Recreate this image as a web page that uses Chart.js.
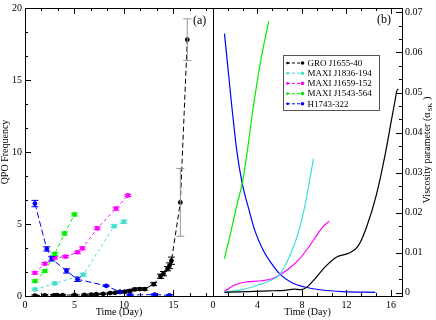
<!DOCTYPE html>
<html>
<head>
<meta charset="utf-8">
<script src="https://cdn.jsdelivr.net/npm/chart.js@4/dist/chart.umd.min.js"></script>
<style>
html, body { margin: 0; padding: 0; background: #fff; }
#wrap { position: relative; width: 436px; height: 320px; }
#wrap canvas { position: absolute; left: 0; top: 0; }
</style>
</head>
<body>
<div id="wrap">
  <canvas id="qpoChart" width="436" height="320"></canvas>
  <canvas id="viscChart" width="436" height="320"></canvas>
</div>
<script>
// sources, in legend order
const sourceNames = ['GRO J1655-40', 'MAXI J1836-194', 'MAXI J1659-152', 'MAXI J1543-564', 'H1743-322'];
const sourceColors = ['#000000', '#40e0d0', '#ff00ff', '#00ee00', '#0000ff'];

// panel (a): QPO frequency (Hz) vs time (day)
const groDays = [1.0, 2.0, 2.9, 3.2, 3.8, 5.0, 6.0, 6.7, 7.2, 7.9, 8.6, 9.1, 9.6, 10.1, 10.6, 11.1, 11.6, 12.1, 13.0, 13.7, 14.0, 14.4, 14.6, 14.8, 15.7, 16.4];
const groQpo = [0.03, 0.05, 0.05, 0.06, 0.06, 0.07, 0.08, 0.1, 0.12, 0.15, 0.2, 0.22, 0.28, 0.3, 0.36, 0.46, 0.48, 0.48, 0.82, 1.37, 1.55, 1.9, 2.1, 2.45, 6.5, 17.8];
const groErr = [0.05, 0.05, 0.05, 0.05, 0.05, 0.05, 0.05, 0.05, 0.05, 0.05, 0.05, 0.05, 0.05, 0.08, 0.08, 0.08, 0.08, 0.08, 0.1, 0.15, 0.15, 0.15, 0.2, 0.25, 2.35, 1.45];

const j1836Days = [1.0, 3.0, 5.9, 9.0, 10.0];
const j1836Qpo = [0.46, 0.87, 1.48, 4.85, 5.16];
const j1836Err = [0.08, 0.08, 0.1, 0.1, 0.1];

const j1659Days = [1.0, 2.0, 3.0, 4.1, 5.3, 5.8, 7.3, 9.2, 10.4];
const j1659Qpo = [1.6, 2.24, 2.65, 2.74, 3.03, 3.31, 4.7, 6.07, 6.98];
const j1659Err = [0.08, 0.08, 0.08, 0.08, 0.08, 0.1, 0.1, 0.1, 0.08];

const j1543Days = [1.0, 2.0, 3.0, 4.0, 5.0];
const j1543Qpo = [1.03, 1.73, 2.92, 4.34, 5.66];
const j1543Err = [0.08, 0.08, 0.1, 0.1, 0.1];

const h1743Days = [1.0, 2.2, 2.7, 4.2, 5.3, 8.2, 9.6, 10.6, 13.1, 14.6];
const h1743Qpo = [6.42, 3.27, 2.58, 1.74, 1.16, 0.71, 0.28, 0.07, 0.1, 0.04];
const h1743Err = [0.22, 0.15, 0.15, 0.15, 0.15, 0.05, 0.08, 0.05, 0.05, 0.05];

// panel (b): viscosity parameter vs time (day)
const groAlphaDays = [1.03, 3.0, 5.0, 6.5, 6.9, 7.3, 7.9, 8.4, 9.3, 10.06, 11.1, 12.3, 13.06, 13.8, 14.7, 15.47, 16.07, 16.37, 16.52, 16.67];
const groAlpha = [0.0001, 0.0003, 0.0005, 0.0006, 0.0008, 0.0009, 0.0008, 0.0013, 0.0039, 0.0064, 0.0089, 0.0100, 0.0117, 0.0163, 0.0245, 0.0343, 0.0434, 0.0479, 0.0503, 0.0509];

const j1836AlphaDays = [1.03, 2.6, 3.78, 4.99, 5.95, 6.9, 7.7, 8.3, 8.75, 9.04];
const j1836Alpha = [0.0002, 0.0008, 0.0017, 0.0029, 0.0044, 0.0092, 0.0152, 0.0222, 0.029, 0.0335];

const j1659AlphaDays = [1.03, 2.0, 2.9, 4.4, 5.3, 5.95, 6.9, 7.7, 8.5, 9.3, 9.8, 10.45];
const j1659Alpha = [0.0004, 0.0020, 0.0027, 0.0030, 0.0035, 0.0044, 0.0062, 0.0082, 0.0110, 0.0142, 0.0162, 0.0179];

const j1543AlphaDays = [1.03, 1.55, 2.2, 2.63, 3.04, 3.58, 4.33, 5.02];
const j1543Alpha = [0.0085, 0.0146, 0.0225, 0.0273, 0.0345, 0.0455, 0.0585, 0.0678];

const h1743AlphaDays = [1.03, 2.14, 2.63, 3.19, 3.78, 4.54, 5.29, 6.04, 7.1, 8.14, 9.8, 11.7, 14.6];
const h1743Alpha = [0.0647, 0.0355, 0.0273, 0.0212, 0.0154, 0.0105, 0.0072, 0.0046, 0.0025, 0.0015, 0.0007, 0.0003, 0.0001];

// tick labels
const qpoDayTicks = [0, 5, 10, 15];
const qpoTicks = [0, 5, 10, 15, 20];
const viscDayTicks = [0, 4, 8, 12, 16];
const viscTicks = [0, 0.01, 0.02, 0.03, 0.04, 0.05, 0.06, 0.07];

const serif = 'Liberation Serif';
const toPoints = (xs, ys) => xs.map((x, i) => ({ x, y: ys[i] }));

// inward ticks + box around the plot
const frameTicks = {
    id: 'frameTicks',
    afterDraw(chart, args, opts) {
        const { ctx, chartArea: a, scales } = chart;
        const xs = scales.x, ys = scales.y;
        ctx.save();
        ctx.strokeStyle = '#000';
        ctx.lineWidth = 1;
        ctx.strokeRect(Math.round(a.left) + 0.5, Math.round(a.top) + 0.5,
            Math.round(a.right - a.left), Math.round(a.bottom - a.top));
        ctx.beginPath();
        for (let i = 0; ; i++) {
            const v = i * opts.xStep / 3;
            if (v > xs.max + 1e-9) break;
            const len = i % 3 === 0 ? 6 : 3;
            const px = Math.round(xs.getPixelForValue(v)) + 0.5;
            ctx.moveTo(px, a.bottom); ctx.lineTo(px, a.bottom - len);
            ctx.moveTo(px, a.top); ctx.lineTo(px, a.top + len);
        }
        for (let i = 0; ; i++) {
            const v = i * opts.yStep / 3;
            if (v > ys.max + 1e-12) break;
            const len = i % 3 === 0 ? 6 : 3;
            const py = Math.round(ys.getPixelForValue(v)) + 0.5;
            if (opts.ySide === 'left') {
                ctx.moveTo(a.left, py); ctx.lineTo(a.left + len, py);
            } else {
                ctx.moveTo(a.right, py); ctx.lineTo(a.right - len, py);
            }
        }
        ctx.stroke();
        if (opts.label) {
            ctx.fillStyle = '#000';
            ctx.font = '12px "' + serif + '"';
            ctx.textBaseline = 'middle';
            ctx.fillText(opts.label, opts.labelX, opts.labelY);
        }
        ctx.restore();
    }
};

// vertical error bars with caps
const errorBars = {
    id: 'errorBars',
    afterDatasetsDraw(chart) {
        const { ctx, scales } = chart;
        ctx.save();
        ctx.lineWidth = 1;
        chart.data.datasets.forEach(ds => {
            if (!ds.yErr) return;
            ds.data.forEach((p, i) => {
                const e = ds.yErr[i];
                const x = scales.x.getPixelForValue(p.x);
                const y1 = scales.y.getPixelForValue(p.y - e);
                const y2 = scales.y.getPixelForValue(p.y + e);
                const w = e > 1 ? 4 : 3.5;
                ctx.strokeStyle = e > 1 ? '#999999' : ds.borderColor;
                ctx.beginPath();
                ctx.moveTo(x, y1); ctx.lineTo(x, y2);
                ctx.moveTo(x - w, y1); ctx.lineTo(x + w, y1);
                ctx.moveTo(x - w, y2); ctx.lineTo(x + w, y2);
                ctx.stroke();
            });
        });
        ctx.restore();
    }
};

// legend box and right-hand axis title of panel (b)
const viscExtras = {
    id: 'viscExtras',
    afterDraw(chart) {
        const ctx = chart.ctx;
        ctx.save();
        // legend
        ctx.fillStyle = '#fff';
        ctx.fillRect(283.5, 55.5, 96, 55);
        ctx.strokeStyle = '#555';
        ctx.lineWidth = 1;
        ctx.strokeRect(283.5, 55.5, 96, 55);
        ctx.font = '9px "' + serif + '"';
        ctx.textBaseline = 'middle';
        sourceNames.forEach((name, i) => {
            const y = 63 + i * 10.2;
            ctx.strokeStyle = sourceColors[i];
            ctx.fillStyle = sourceColors[i];
            ctx.setLineDash([3, 2]);
            ctx.beginPath();
            ctx.moveTo(287, y); ctx.lineTo(303, y);
            ctx.stroke();
            ctx.setLineDash([]);
            ctx.beginPath(); ctx.arc(287.5, y, 1.3, 0, Math.PI * 2); ctx.fill();
            ctx.beginPath(); ctx.arc(302.5, y, 1.8, 0, Math.PI * 2); ctx.fill();
            ctx.fillStyle = '#000';
            ctx.fillText(name, 307.5, y + 0.5);
        });
        // y title on the right, reading upwards
        ctx.translate(426, 150);
        ctx.rotate(-Math.PI / 2);
        ctx.fillStyle = '#000';
        const main = 'Viscosity parameter (\u03b1';
        ctx.font = '10px "' + serif + '"';
        const wMain = ctx.measureText(main).width;
        ctx.font = '7px "' + serif + '"';
        const wSub = ctx.measureText('SK').width;
        ctx.font = '10px "' + serif + '"';
        const wEnd = ctx.measureText(' )').width;
        let x0 = -(wMain + wSub + wEnd + 1) / 2;
        ctx.textBaseline = 'alphabetic';
        ctx.fillText(main, x0, 3.5);
        ctx.font = '7px "' + serif + '"';
        ctx.fillText('SK', x0 + wMain + 1, 6);
        ctx.font = '10px "' + serif + '"';
        ctx.fillText(' )', x0 + wMain + wSub + 1, 3.5);
        ctx.restore();
    }
};

const tickFont = { family: serif, size: 10, lineHeight: 1 };
const titleFont = { family: serif, size: 10, lineHeight: 1 };

function qpoSet(label, color, days, qpo, err, dash) {
    return {
        label,
        data: toPoints(days, qpo),
        yErr: err,
        showLine: true,
        borderColor: color,
        backgroundColor: color,
        borderWidth: 1,
        borderDash: dash,
        pointRadius: 2.4,
        pointBorderWidth: 0,
        pointHoverRadius: 2.4
    };
}

function viscSet(label, color, days, alpha) {
    return {
        label,
        data: toPoints(days, alpha),
        showLine: true,
        borderColor: color,
        borderWidth: 1.2,
        pointRadius: 0,
        cubicInterpolationMode: 'monotone'
    };
}

const xAxis = (max, ticks) => ({
    type: 'linear', min: 0, max,
    grid: { display: false, drawTicks: false },
    border: { display: false },
    afterBuildTicks: s => { s.ticks = ticks.map(v => ({ value: v })); },
    afterFit: s => { s.height = 24; },
    ticks: { font: tickFont, color: '#000', padding: 4, maxRotation: 0, autoSkip: false },
    title: { display: true, text: 'Time (Day)', font: titleFont, color: '#000', padding: { top: 0, bottom: 3 } }
});

new Chart(document.getElementById('qpoChart'), {
    type: 'scatter',
    data: {
        datasets: [
            qpoSet(sourceNames[0], sourceColors[0], groDays, groQpo, groErr, [5, 3]),
            qpoSet(sourceNames[1], sourceColors[1], j1836Days, j1836Qpo, j1836Err, [3, 3]),
            qpoSet(sourceNames[2], sourceColors[2], j1659Days, j1659Qpo, j1659Err, [3, 3]),
            qpoSet(sourceNames[3], sourceColors[3], j1543Days, j1543Qpo, j1543Err, [4, 3]),
            qpoSet(sourceNames[4], sourceColors[4], h1743Days, h1743Qpo, h1743Err, [6, 3])
        ]
    },
    options: {
        responsive: false,
        animation: false,
        events: [],
        layout: { padding: { top: 4, right: 223, left: 0, bottom: 0 } },
        plugins: {
            legend: { display: false },
            tooltip: { enabled: false },
            frameTicks: { xStep: 5, yStep: 5, ySide: 'left', label: '(a)', labelX: 193, labelY: 20.5 }
        },
        scales: {
            x: xAxis(19, qpoDayTicks),
            y: {
                type: 'linear', min: 0, max: 20,
                grid: { display: false, drawTicks: false },
                border: { display: false },
                afterBuildTicks: s => { s.ticks = qpoTicks.map(v => ({ value: v })); },
                afterFit: s => { s.width = 25; },
                ticks: { font: tickFont, color: '#000', padding: 3 },
                title: { display: true, text: 'QPO Frequency', font: titleFont, color: '#000', padding: 0 }
            }
        }
    },
    plugins: [errorBars, frameTicks]
});

new Chart(document.getElementById('viscChart'), {
    type: 'scatter',
    data: {
        datasets: [
            viscSet(sourceNames[0], sourceColors[0], groAlphaDays, groAlpha),
            viscSet(sourceNames[1], sourceColors[1], j1836AlphaDays, j1836Alpha),
            viscSet(sourceNames[2], sourceColors[2], j1659AlphaDays, j1659Alpha),
            viscSet(sourceNames[3], sourceColors[3], j1543AlphaDays, j1543Alpha),
            viscSet(sourceNames[4], sourceColors[4], h1743AlphaDays, h1743Alpha)
        ]
    },
    options: {
        responsive: false,
        animation: false,
        events: [],
        layout: { padding: { top: 4, right: 0, left: 213, bottom: 0 } },
        plugins: {
            legend: { display: false },
            tooltip: { enabled: false },
            frameTicks: { xStep: 4, yStep: 0.01, ySide: 'right', label: '(b)', labelX: 377, labelY: 19.5 }
        },
        scales: {
            x: xAxis(17, viscDayTicks),
            y: {
                type: 'linear', position: 'right', min: -0.0008, max: 0.0711,
                grid: { display: false, drawTicks: false },
                border: { display: false },
                afterBuildTicks: s => { s.ticks = viscTicks.map(v => ({ value: v })); },
                afterFit: s => { s.width = 34; },
                ticks: {
                    font: tickFont, color: '#000', padding: 3,
                    callback: v => (v === 0 ? '0' : v.toFixed(2))
                }
            }
        }
    },
    plugins: [frameTicks, viscExtras]
});
</script>
</body>
</html>
